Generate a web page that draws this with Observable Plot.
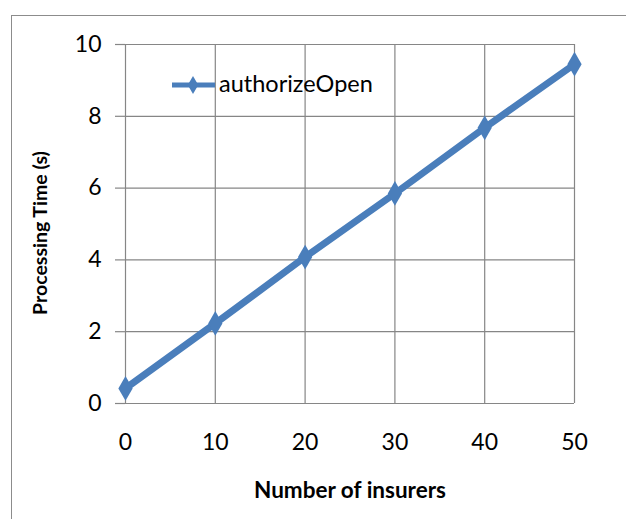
<!DOCTYPE html>
<html>
<head>
<meta charset="utf-8">
<script src="https://cdn.jsdelivr.net/npm/d3@7"></script>
<script src="https://cdn.jsdelivr.net/npm/@observablehq/plot@0.6"></script>
<style>
  html, body { margin: 0; padding: 0; background: #fff; }
  #wrap { position: relative; width: 626px; height: 519px; overflow: hidden; font-family: Lato, "Open Sans", sans-serif; }
  #border { position: absolute; left: 11px; top: 15px; width: 700px; height: 600px; border: 1.5px solid #8c8c8c; box-sizing: border-box; }
  #chart { position: absolute; left: 0; top: 0; }
  #legend { position: absolute; left: 0; top: 0; }
  g[aria-label="y-axis label"] text { font-weight: bold; font-size: 19.5px; }
  g[aria-label="x-axis label"] text { font-weight: bold; font-size: 22.5px; }
</style>
</head>
<body>
<div id="wrap">
  <div id="border"></div>
  <div id="chart"></div>
  <svg id="legend" width="626" height="519"></svg>
</div>
<script>
const insurers = [0, 10, 20, 30, 40, 50];
const authorizeOpen = [0.42, 2.23, 4.08, 5.85, 7.68, 9.45];
const xTicks = [0, 10, 20, 30, 40, 50];
const yTicks = [0, 2, 4, 6, 8, 10];
const seriesName = "authorizeOpen";
const xLabel = "Number of insurers";
const yLabel = "Processing Time (s)";

const data = insurers.map((x, i) => ({x, y: authorizeOpen[i]}));
const blue = "#4a7ebb";
const grid = "#868686";

const chart = Plot.plot({
  width: 626,
  height: 519,
  marginLeft: 125,
  marginRight: 52,
  marginTop: 44,
  marginBottom: 116,
  style: {fontFamily: "Lato, 'Open Sans', sans-serif", fontSize: "23px", color: "#000", background: "transparent", overflow: "visible"},
  x: {domain: [0, 50]},
  y: {domain: [0, 10]},
  marks: [
    Plot.gridX(xTicks, {stroke: grid, strokeOpacity: 1, strokeWidth: 1.2}),
    Plot.gridY(yTicks, {stroke: grid, strokeOpacity: 1, strokeWidth: 1.2}),
    Plot.axisY(yTicks, {tickSize: 10, tickPadding: 14, stroke: grid, strokeWidth: 1.2, fill: "#000", tickFormat: d => String(d),
      label: yLabel, labelAnchor: "center", labelOffset: 92, labelArrow: "none"}),
    Plot.axisX(xTicks, {tickSize: 0, tickPadding: 30, fill: "#000", tickFormat: d => String(d),
      label: xLabel, labelAnchor: "center", labelOffset: 94, labelArrow: "none"}),
    Plot.line(data, {x: "x", y: "y", stroke: blue, strokeWidth: 7, style: "filter: drop-shadow(2px 2px 1.5px rgba(0,0,0,0.3))"}),
    Plot.dot(data, {x: "x", y: "y", symbol: "diamond", r: 7.5, fill: blue, stroke: "none"})
  ]
});
document.getElementById("chart").appendChild(chart);
// nudge the rotated y title slightly downward, as in the reference
d3.select(chart).selectAll('g[aria-label="y-axis label"] text').attr("dx", -9);

// legend
const lg = d3.select("#legend");
lg.append("line").attr("x1", 172).attr("x2", 215).attr("y1", 85).attr("y2", 85)
  .attr("stroke", blue).attr("stroke-width", 5);
lg.append("path").attr("d", d3.symbol(d3.symbolDiamond, 95)()).attr("transform", "translate(193,85)").attr("fill", blue);
lg.append("text").attr("x", 219).attr("y", 92).attr("font-size", 23.5).attr("fill", "#000")
  .attr("font-family", "Lato, 'Open Sans', sans-serif").text(seriesName);
</script>
</body>
</html>
